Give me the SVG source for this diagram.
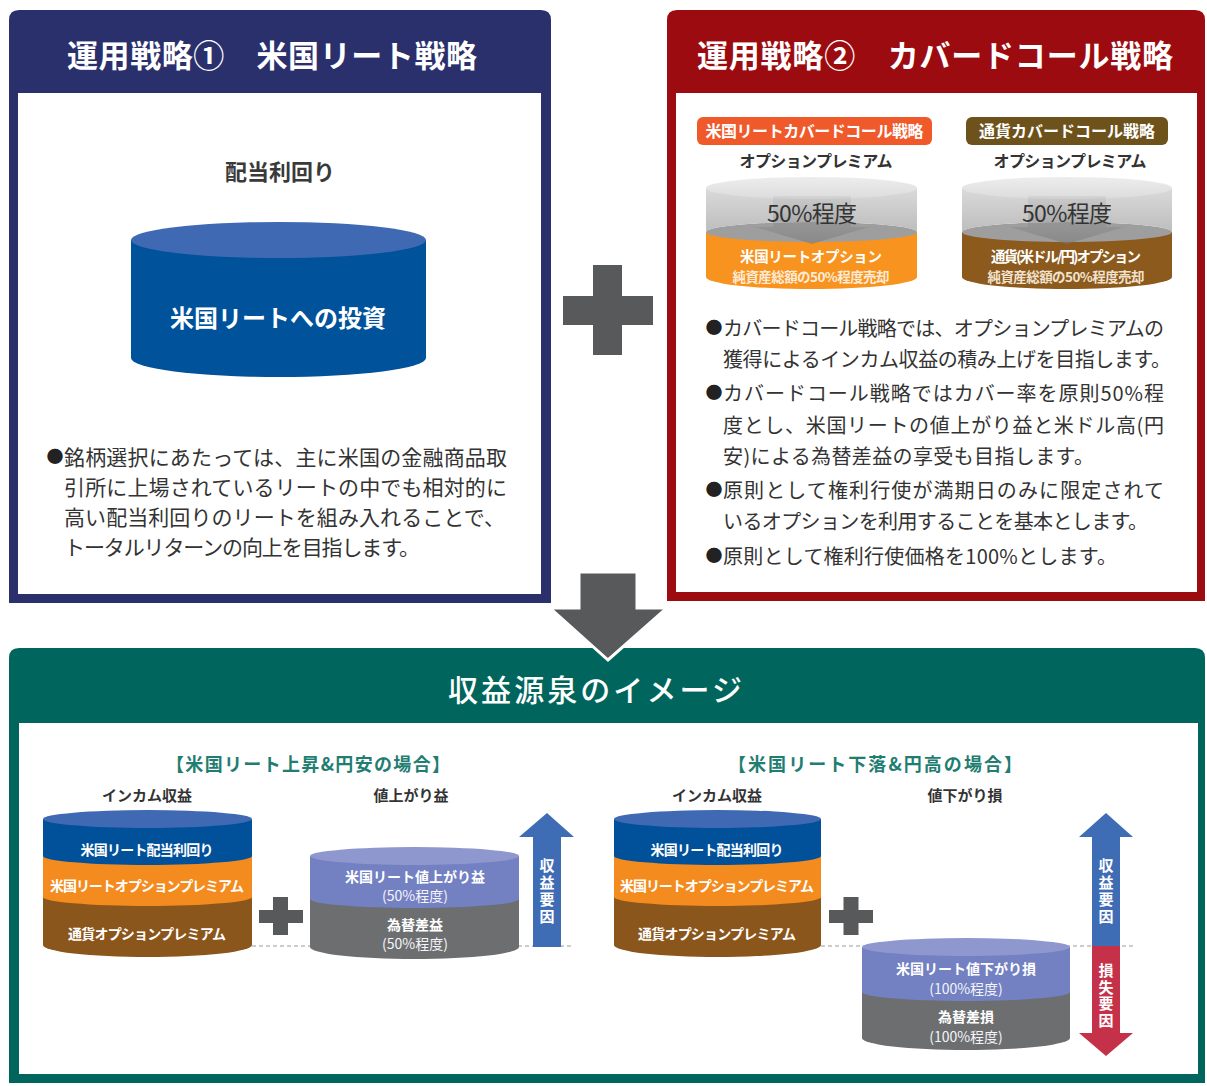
<svg xmlns="http://www.w3.org/2000/svg" width="1207" height="1086" viewBox="0 0 1207 1086">
<defs>
<style>
text{font-family:'Noto Sans CJK JP','Noto Sans CJK SC',sans-serif;}
.ttl{fill:#fff;font-size:31px;font-weight:700;}
.body{fill:#333;font-size:20px;}
.bodyL{fill:#333;font-size:21px;}
.bul{fill:#222;font-size:17px;}
.lbl{fill:#333;font-size:15px;font-weight:700;}
.w14{fill:#fff;font-size:14px;font-weight:700;}
.w14n{fill:#f4f4fa;font-size:14px;}
.vt{fill:#fff;font-size:15px;font-weight:700;writing-mode:vertical-rl;}
.sub{fill:#1f7d72;font-size:18px;font-weight:700;}
.gray{fill:#58595b;}
</style>
<linearGradient id="gbody" x1="0" y1="0" x2="0" y2="1">
<stop offset="0" stop-color="#dadada"/><stop offset="1" stop-color="#bdbdbd"/>
</linearGradient>
<linearGradient id="gtop" x1="0" y1="0" x2="0" y2="1">
<stop offset="0" stop-color="#ededed"/><stop offset="1" stop-color="#dcdcdc"/>
</linearGradient>
<linearGradient id="garrow" x1="0" y1="0" x2="0" y2="1">
<stop offset="0" stop-color="#9a9a9a" stop-opacity="0.15"/><stop offset="1" stop-color="#7a7a7a" stop-opacity="0.6"/>
</linearGradient>
</defs>
<rect width="1207" height="1086" fill="#fff"/>

<g id="strategy1">
<path d="M9,603 V20 Q9,10 19,10 H541 Q551,10 551,20 V603 Z" fill="#2a306c"/>
<rect x="18" y="93" width="523" height="501" fill="#fff"/>
<text class="ttl" x="272" y="67" text-anchor="middle" textLength="410">運用戦略①　米国リート戦略</text>
<text x="280" y="180" text-anchor="middle" style="fill:#3a3a3a;font-size:22px;font-weight:700">配当利回り</text>
<path d="M131,240 V358 A147.5,19 0 0 0 426,358 V240 Z" fill="#00529b"/>
<ellipse cx="278.5" cy="240" rx="147.5" ry="18" fill="#3f6ab3"/>
<text x="278" y="327" text-anchor="middle" style="fill:#fff;font-size:24px;font-weight:700">米国リートへの投資</text>
<text class="bul" x="55" y="463" text-anchor="middle">●</text>
<text class="bodyL" x="64" y="465" textLength="443">銘柄選択にあたっては、主に米国の金融商品取</text>
<text class="bodyL" x="64" y="495" textLength="443">引所に上場されているリートの中でも相対的に</text>
<text class="bodyL" x="64" y="525" textLength="441">高い配当利回りのリートを組み入れることで、</text>
<text class="bodyL" x="64" y="555" textLength="356">トータルリターンの向上を目指します。</text>
</g>

<g id="strategy2">
<path d="M667,601 V20 Q667,10 677,10 H1195 Q1205,10 1205,20 V601 Z" fill="#9c0b10"/>
<rect x="676" y="93" width="521" height="499" fill="#fff"/>
<text class="ttl" x="935" y="67" text-anchor="middle" textLength="476">運用戦略②　カバードコール戦略</text>

<g id="reit-covered-call">
<rect x="697" y="117" width="235" height="28" rx="6" fill="#f0592a"/>
<text x="814.5" y="137" text-anchor="middle" textLength="218" style="fill:#fff;font-size:16px;font-weight:700">米国リートカバードコール戦略</text>
<text x="816" y="167" text-anchor="middle" textLength="153" style="fill:#333;font-size:16px;font-weight:700">オプションプレミアム</text>
<path d="M706,232 V277 A105.5,12 0 0 0 917,277 V232 Z" fill="#f7931e"/>
<ellipse cx="811.5" cy="232" rx="105.5" ry="10" fill="#9e9e9e"/>
<path d="M706,188 V232 A105.5,10 0 0 1 917,232 V188 Z" fill="url(#gbody)"/>
<ellipse cx="811.5" cy="188" rx="105.5" ry="11" fill="url(#gtop)"/>
<polygon points="773,196 851,196 851,227 869,227 812,244 755,227 773,227" fill="url(#garrow)"/>
<text x="812" y="222" text-anchor="middle" textLength="90" style="fill:#333;font-size:23px">50%程度</text>
<text x="811" y="262" text-anchor="middle" textLength="142" style="fill:#fff;font-size:14.5px;font-weight:700">米国リートオプション</text>
<text x="811" y="282" text-anchor="middle" textLength="157" style="fill:#fdebd6;font-size:13.5px;font-weight:700">純資産総額の50%程度売却</text>
</g>

<g id="fx-covered-call">
<rect x="966" y="117" width="202" height="28" rx="6" fill="#6e521c"/>
<text x="1067" y="137" text-anchor="middle" textLength="176" style="fill:#fff;font-size:16px;font-weight:700">通貨カバードコール戦略</text>
<text x="1070" y="167" text-anchor="middle" textLength="153" style="fill:#333;font-size:16px;font-weight:700">オプションプレミアム</text>
<path d="M962,232 V277 A105,12 0 0 0 1172,277 V232 Z" fill="#8c5a1c"/>
<ellipse cx="1067" cy="232" rx="105" ry="10" fill="#9e9e9e"/>
<path d="M962,188 V232 A105,10 0 0 1 1172,232 V188 Z" fill="url(#gbody)"/>
<ellipse cx="1067" cy="188" rx="105" ry="11" fill="url(#gtop)"/>
<polygon points="1028,196 1106,196 1106,227 1124,227 1067,244 1010,227 1028,227" fill="url(#garrow)"/>
<text x="1067" y="222" text-anchor="middle" textLength="90" style="fill:#333;font-size:23px">50%程度</text>
<text x="1066" y="262" text-anchor="middle" textLength="150" style="fill:#fff;font-size:14.5px;font-weight:700">通貨(米ドル/円)オプション</text>
<text x="1066" y="282" text-anchor="middle" textLength="157" style="fill:#f1e2cf;font-size:13.5px;font-weight:700">純資産総額の50%程度売却</text>
</g>

<text class="bul" x="714" y="334" text-anchor="middle">●</text>
<text class="body" x="723" y="336" textLength="441">カバードコール戦略では、オプションプレミアムの</text>
<text class="body" x="723" y="367" textLength="448">獲得によるインカム収益の積み上げを目指します。</text>
<text class="bul" x="714" y="399" text-anchor="middle">●</text>
<text class="body" x="723" y="401" textLength="441">カバードコール戦略ではカバー率を原則50%程</text>
<text class="body" x="723" y="433" textLength="441">度とし、米国リートの値上がり益と米ドル高(円</text>
<text class="body" x="723" y="464" textLength="371">安)による為替差益の享受も目指します。</text>
<text class="bul" x="714" y="496" text-anchor="middle">●</text>
<text class="body" x="723" y="498" textLength="441">原則として権利行使が満期日のみに限定されて</text>
<text class="body" x="723" y="529" textLength="425">いるオプションを利用することを基本とします。</text>
<text class="bul" x="714" y="562" text-anchor="middle">●</text>
<text class="body" x="723" y="564" textLength="394">原則として権利行使価格を100%とします。</text>
</g>

<g id="income-source">
<path d="M9,1083 V658 Q9,648 19,648 H1195 Q1205,648 1205,658 V1083 Z" fill="#00665d"/>
<rect x="19" y="723" width="1179" height="351" fill="#fff"/>
<text x="595" y="701" text-anchor="middle" textLength="294" style="fill:#fff;font-size:30px;font-weight:500">収益源泉のイメージ</text>

<g id="rise-case">
<text class="sub" x="308" y="771" text-anchor="middle" textLength="284">【米国リート上昇&amp;円安の場合】</text>
<text class="lbl" x="147" y="801" text-anchor="middle">インカム収益</text>
<text class="lbl" x="411" y="801" text-anchor="middle">値上がり益</text>
<line x1="252" y1="946" x2="572" y2="946" stroke="#999" stroke-width="1" stroke-dasharray="4 3"/>
<path d="M43,897 V945 A104.5,12 0 0 0 252,945 V897 Z" fill="#8b561c"/>
<path d="M43,856 V897 A104.5,9 0 0 0 252,897 V856 Z" fill="#f48b1f"/>
<path d="M43,819 V856 A104.5,9 0 0 0 252,856 V819 Z" fill="#00519a"/>
<ellipse cx="147.5" cy="819" rx="104.5" ry="9" fill="#4069b3"/>
<text class="w14" x="147" y="855" text-anchor="middle" textLength="133">米国リート配当利回り</text>
<text class="w14" x="147" y="891" text-anchor="middle" textLength="194">米国リートオプションプレミアム</text>
<text class="w14" x="147" y="939" text-anchor="middle" textLength="158">通貨オプションプレミアム</text>
<rect class="gray" x="273" y="897" width="15" height="38"/>
<rect class="gray" x="259" y="910" width="44" height="13"/>
<path d="M310,899 V947 A104.5,12 0 0 0 519,947 V899 Z" fill="#6d6e70"/>
<path d="M310,856 V899 A104.5,9 0 0 0 519,899 V856 Z" fill="#7380c1"/>
<ellipse cx="414.5" cy="856" rx="104.5" ry="9" fill="#8f97cf"/>
<text class="w14" x="415" y="882" text-anchor="middle" textLength="140">米国リート値上がり益</text>
<text class="w14n" x="415" y="901" text-anchor="middle">(50%程度)</text>
<text class="w14" x="415" y="930" text-anchor="middle">為替差益</text>
<text class="w14n" x="415" y="949" text-anchor="middle">(50%程度)</text>
<polygon points="547,813 574,837 561,837 561,947 533,947 533,837 519,837" fill="#3f6db5"/>
<text class="vt" x="547" y="892" text-anchor="middle" style="letter-spacing:2px">収益要因</text>
</g>

<g id="fall-case">
<text class="sub" x="875" y="771" text-anchor="middle" textLength="294">【米国リート下落&amp;円高の場合】</text>
<text class="lbl" x="717" y="801" text-anchor="middle">インカム収益</text>
<text class="lbl" x="965" y="801" text-anchor="middle">値下がり損</text>
<line x1="821" y1="946" x2="1133" y2="946" stroke="#999" stroke-width="1" stroke-dasharray="4 3"/>
<path d="M614,897 V945 A103.5,12 0 0 0 821,945 V897 Z" fill="#8b561c"/>
<path d="M614,856 V897 A103.5,9 0 0 0 821,897 V856 Z" fill="#f48b1f"/>
<path d="M614,819 V856 A103.5,9 0 0 0 821,856 V819 Z" fill="#00519a"/>
<ellipse cx="717.5" cy="819" rx="103.5" ry="9" fill="#4069b3"/>
<text class="w14" x="717" y="855" text-anchor="middle" textLength="133">米国リート配当利回り</text>
<text class="w14" x="717" y="891" text-anchor="middle" textLength="194">米国リートオプションプレミアム</text>
<text class="w14" x="717" y="939" text-anchor="middle" textLength="158">通貨オプションプレミアム</text>
<rect class="gray" x="843.5" y="897" width="15" height="38"/>
<rect class="gray" x="829" y="910" width="44" height="13"/>
<path d="M862,992 V1038 A104,12 0 0 0 1070,1038 V992 Z" fill="#6d6e70"/>
<path d="M862,947 V992 A104,9 0 0 0 1070,992 V947 Z" fill="#7380c1"/>
<ellipse cx="966" cy="947" rx="104" ry="9" fill="#8f97cf"/>
<text class="w14" x="966" y="974" text-anchor="middle" textLength="140">米国リート値下がり損</text>
<text class="w14n" x="966" y="994" text-anchor="middle">(100%程度)</text>
<text class="w14" x="966" y="1022" text-anchor="middle">為替差損</text>
<text class="w14n" x="966" y="1042" text-anchor="middle">(100%程度)</text>
<polygon points="1106,813 1133,837 1120,837 1120,946 1092,946 1092,837 1079,837" fill="#3f6db5"/>
<polygon points="1092,946 1120,946 1120,1033 1133,1033 1106,1056 1079,1033 1092,1033" fill="#c6314a"/>
<text class="vt" x="1106" y="892" text-anchor="middle" style="letter-spacing:2px">収益要因</text>
<text class="vt" x="1106" y="996" text-anchor="middle" style="letter-spacing:1.5px">損失要因</text>
</g>
</g>

<g id="connectors">
<rect class="gray" x="593" y="265" width="29" height="90"/>
<rect class="gray" x="563" y="296" width="90" height="29"/>
<polygon points="579,572 637,572 637,608 667,608 608,660 550,608 579,608" fill="#58595b" stroke="#fff" stroke-width="3" stroke-linejoin="miter"/>
</g>
</svg>
